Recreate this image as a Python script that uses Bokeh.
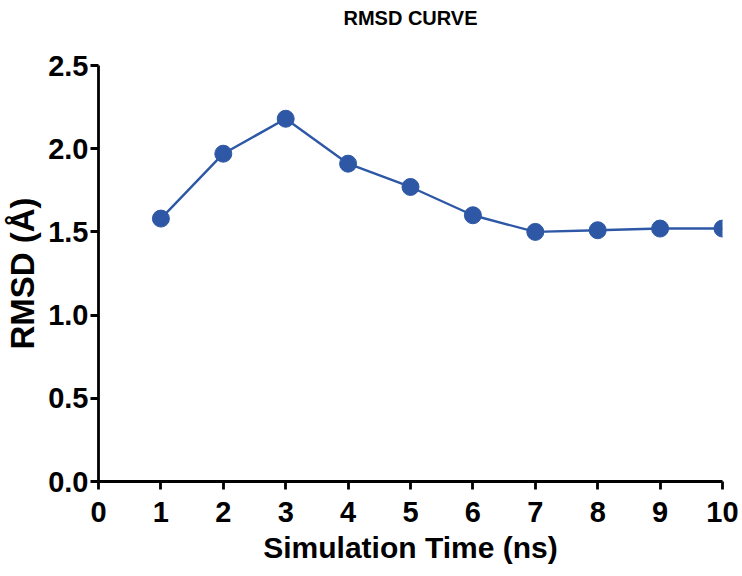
from bokeh.plotting import figure
from bokeh.models import Range1d, FixedTicker, Title
from bokeh.embed import file_html
from bokeh.resources import INLINE

time_ns = [1, 2, 3, 4, 5, 6, 7, 8, 9, 10]
rmsd = [1.58, 1.97, 2.18, 1.91, 1.77, 1.60, 1.50, 1.51, 1.52, 1.52]
x_ticks = [0, 1, 2, 3, 4, 5, 6, 7, 8, 9, 10]
y_ticks = [0.0, 0.5, 1.0, 1.5, 2.0, 2.5]
title_text = "RMSD CURVE"

FONT = "Liberation Sans"
COLOR = "#2E58A6"

p = figure(width=742, height=576, output_backend="svg", toolbar_location=None,
           x_range=Range1d(0, 10), y_range=Range1d(0, 2.5),
           min_border_left=98, min_border_right=20, min_border_top=65, min_border_bottom=95)

spacer = Title(text=" ", text_font_size="2px", standoff=30)
p.add_layout(spacer, "above")
main_title = Title(text=title_text, align="center", text_font=FONT, text_font_size="20px",
                   text_font_style="bold", text_color="black", standoff=6, offset=0)
p.add_layout(main_title, "above")

p.line(time_ns, rmsd, line_color=COLOR, line_width=2.4)
p.scatter(time_ns, rmsd, size=17, fill_color=COLOR, line_color=COLOR)

p.grid.visible = False
p.outline_line_color = None
p.background_fill_color = "white"
p.border_fill_color = "white"

for ax in (p.xaxis[0], p.yaxis[0]):
    ax.axis_line_width = 2.8
    ax.axis_line_color = "black"
    ax.major_tick_line_width = 2.8
    ax.major_tick_line_color = "black"
    ax.major_tick_out = 8
    ax.major_tick_in = 0
    ax.minor_tick_line_color = None
    ax.major_label_text_font = FONT
    ax.major_label_text_font_style = "bold"
    ax.major_label_text_font_size = "29px"
    ax.major_label_text_color = "black"
    ax.axis_label_text_font = FONT
    ax.axis_label_text_font_style = "bold"
    ax.axis_label_text_color = "black"

p.xaxis[0].axis_label_text_font_size = "30px"
p.yaxis[0].axis_label_text_font_size = "33px"
p.xaxis[0].ticker = FixedTicker(ticks=x_ticks)
p.yaxis[0].ticker = FixedTicker(ticks=y_ticks)
p.xaxis[0].major_label_overrides = {t: str(t) for t in x_ticks}
p.yaxis[0].major_label_overrides = {t: f"{t:.1f}" for t in y_ticks}
p.xaxis[0].axis_label = "Simulation Time (ns)"
p.yaxis[0].axis_label = "RMSD (Å)"
p.xaxis[0].major_label_standoff = 12
p.yaxis[0].major_label_standoff = 2
p.xaxis[0].axis_label_standoff = 6
p.yaxis[0].axis_label_standoff = 4

open("out.html", "w").write(file_html(p, INLINE))
